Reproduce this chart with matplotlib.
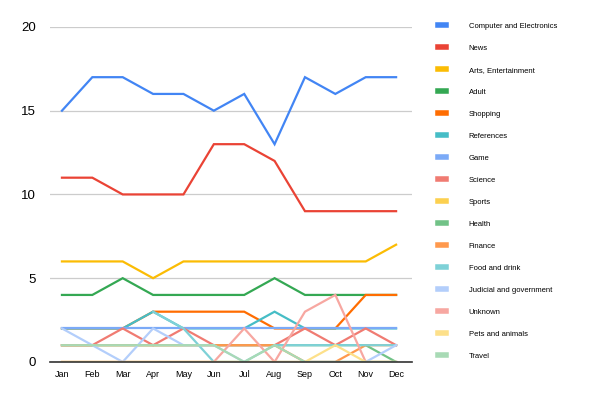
import numpy as np
import matplotlib
matplotlib.use("Agg")
import matplotlib.pyplot as plt

plt.rcParams["font.family"] = ["Liberation Sans", "DejaVu Sans"]

months = ["Jan", "Feb", "Mar", "Apr", "May", "Jun", "Jul", "Aug", "Sep", "Oct", "Nov", "Dec"]
nan = np.nan

computer = [15, 17, 17, 16, 16, 15, 16, 13, 17, 16, 17, 17]
news = [11, 11, 10, 10, 10, 13, 13, 12, 9, 9, 9, 9]
arts = [6, 6, 6, 5, 6, 6, 6, 6, 6, 6, 6, 7]
adult = [4, 4, 5, 4, 4, 4, 4, 5, 4, 4, 4, 4]
shopping = [2, 2, 2, 3, 3, 3, 3, 2, 2, 2, 4, 4]
references = [2, 2, 2, 3, 2, 2, 2, 3, 2, 2, 2, 2]
game = [2, 2, 2, 2, 2, 2, 2, 2, 2, 2, 2, 2]
science = [1, 1, 2, 1, 2, 1, 1, 1, 2, 1, 2, 1]
sports = [0, 0, 0, 0, 0, 0, 0, 0, 0, 0, 0, 0]
health = [1, 1, 1, 1, 1, 1, 1, 1, 1, 1, 1, 0]
finance = [1, 1, 1, 1, 1, 1, 1, 1, 0, 0, 1, 1]
food = [nan, nan, nan, 3, 2, 0, 0, 1, 1, 1, 1, 1]
judicial = [2, 1, 0, 2, 1, 1, 0, 0, 0, 0, 0, 1]
unknown = [0, 0, 0, 0, 0, 0, 2, 0, 3, 4, 0, 0]
pets = [0, 0, 0, 0, 0, 0, 0, 0, 0, 1, 0, 0]
travel = [1, 1, 1, 1, 1, 1, 0, 1, 0, 0, 0, 0]

series = [
    ("Computer and Electronics", computer, "#4285f4"),
    ("News", news, "#ea4335"),
    ("Arts, Entertainment", arts, "#fbbc04"),
    ("Adult", adult, "#34a853"),
    ("Shopping", shopping, "#ff6d01"),
    ("References", references, "#46bdc6"),
    ("Game", game, "#7baaf7"),
    ("Science", science, "#f07b72"),
    ("Sports", sports, "#fcd04f"),
    ("Health", health, "#71c287"),
    ("Finance", finance, "#ff994d"),
    ("Food and drink", food, "#7ed1d7"),
    ("Judicial and government", judicial, "#b3cefb"),
    ("Unknown", unknown, "#f7a7a1"),
    ("Pets and animals", pets, "#fde08a"),
    ("Travel", travel, "#a8dab5"),
]

fig = plt.figure(figsize=(6, 3.96), dpi=100)
ax = fig.add_axes([0.083, 0.086, 0.604, 0.846])

x = np.arange(len(months))
for name, vals, col in series:
    ax.plot(x, vals, color=col, lw=1.6, label=name, solid_joinstyle="miter")

ax.set_xlim(-0.4, 11.53)
ax.set_ylim(0, 20)
ax.set_yticks([0, 5, 10, 15, 20])
ax.set_xticks(x)
ax.set_xticklabels(months, fontsize=6.5)
ax.tick_params(axis="y", labelsize=9.5, length=0, pad=10)
ax.tick_params(axis="x", length=0, pad=6)
ax.grid(axis="y", color="#cccccc", lw=0.9)
ax.set_axisbelow(True)
for s in ["top", "right", "left"]:
    ax.spines[s].set_visible(False)
ax.spines["bottom"].set_color("#333333")
ax.spines["bottom"].set_linewidth(1.2)

handles, labels = ax.get_legend_handles_labels()
leg = fig.legend(handles, labels, loc="upper left", bbox_to_anchor=(0.73, 0.943),
                 frameon=False, fontsize=5.5, labelspacing=1.92, handlelength=1.1,
                 handletextpad=2.9, borderpad=0, borderaxespad=0)
for h in leg.get_lines():
    h.set_linewidth(4)

fig.savefig("out.png", dpi=100)
